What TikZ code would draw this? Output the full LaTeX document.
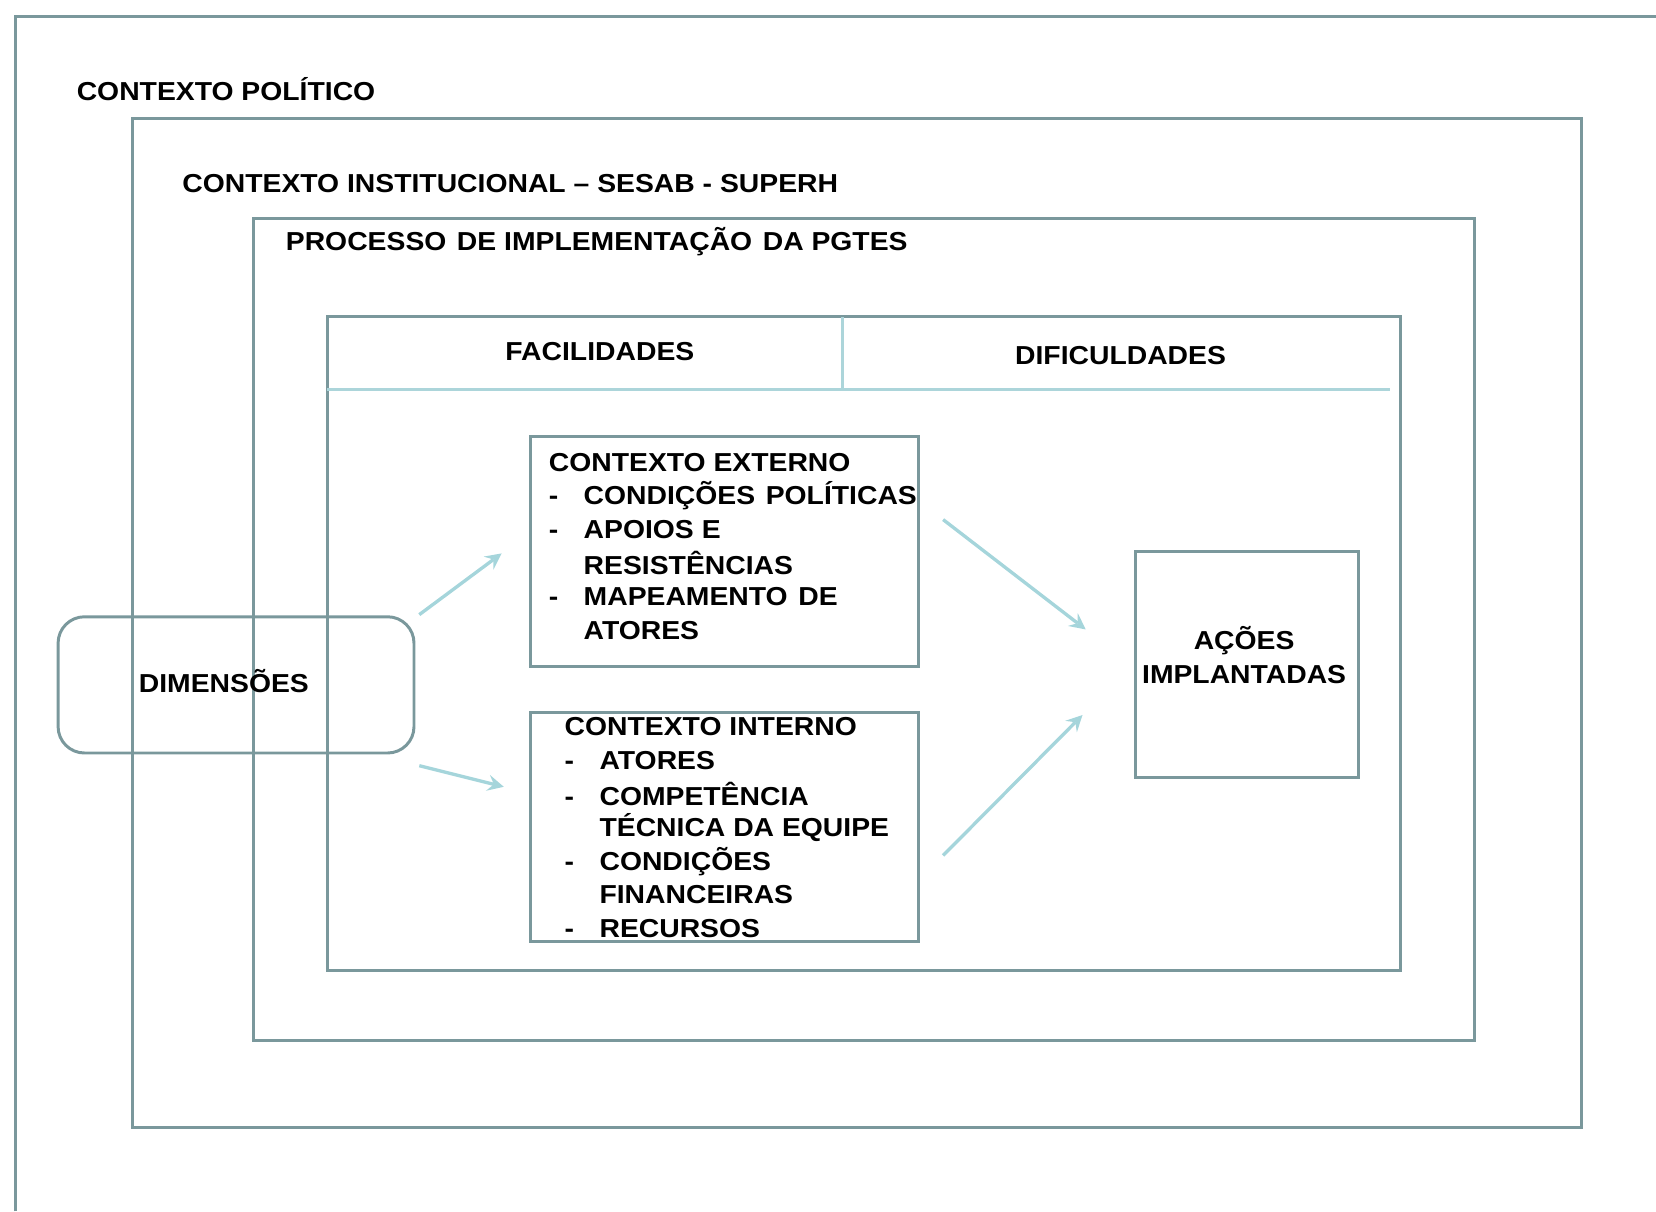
\documentclass[tikz,border=0pt]{standalone}
\usepackage{fontspec}
\setmainfont[FakeStretch=1.09]{Liberation Sans}
\definecolor{frame}{RGB}{122,152,156}
\definecolor{divider}{RGB}{172,213,218}
\definecolor{linkcol}{RGB}{165,213,219}
\newcommand{\dashitem}[1]{\makebox[0.33cm][l]{-}#1}
\newcommand{\contline}[1]{\hspace*{0.33cm}#1}
\newcommand{\gap}{\hspace{0.1cm}}

\begin{document}
\begin{tikzpicture}[x=1cm, y=-1cm, font=\fontsize{7.0}{9.1}\selectfont\bfseries,
    box/.style={draw=frame, line width=0.8pt},
    txt/.style={anchor=west, inner sep=0pt},
    link/.style={linkcol, line width=0.9pt, -stealth}]
    \useasboundingbox (0, 0) rectangle (15.68, 11.47);

    % nested contexts (the outer one runs off the page)
    \draw[box] (0.15, 11.47) -- (0.15, 0.16) -- (15.68, 0.16);
    \draw[box] (1.25, 1.12) rectangle (14.97, 10.68);
    \draw[box] (2.40, 2.07) rectangle (13.96, 9.85);
    \draw[box] (3.10, 3.00) rectangle (13.26, 9.19);
    \draw[divider, line width=0.8pt] (3.10, 3.69) -- (13.16, 3.69);
    \draw[divider, line width=0.8pt] (7.98, 3.00) -- (7.98, 3.69);

    \node[txt] (politico) at (0.72, 0.84) {CONTEXTO POLÍTICO};
    \node[txt] (institucional) at (1.72, 1.74) {CONTEXTO INSTITUCIONAL – SESAB - SUPERH};
    \node[txt] (processo) at (2.70, 2.29) {PROCESSO\gap DE IMPLEMENTAÇÃO\gap DA PGTES};
    \node (facilidades) at (5.68, 3.33) {FACILIDADES};
    \node (dificuldades) at (10.61, 3.37) {DIFICULDADES};

    % boxes
    \node[box, rounded corners=0.25cm, minimum width=3.37cm, minimum height=1.29cm] (dim) at (2.235, 6.485) {};
    \node (dimlabel) at (2.12, 6.45) {DIMENSÕES};
    \node[box, anchor=north west, minimum width=3.67cm, minimum height=2.18cm] (externo) at (5.01, 4.12) {};
    \node[box, anchor=north west, minimum width=3.67cm, minimum height=2.17cm] (interno) at (5.01, 6.73) {};
    \node[box, anchor=north west, minimum width=2.11cm, minimum height=2.14cm] (acoes) at (10.74, 5.21) {};
    \node[align=center] (acoeslabel) at (11.78, 6.20) {AÇÕES\\IMPLANTADAS};

    \foreach \t [count=\i] in {CONTEXTO EXTERNO, {\dashitem{CONDIÇÕES\gap POLÍTICAS}}, {\dashitem{APOIOS E}},
        {\contline{RESISTÊNCIAS}}, {\dashitem{MAPEAMENTO\gap DE}}, {\contline{ATORES}}}{%
        \node[txt] (ext\i) at (5.19, 4.06 + 0.318*\i) {\t};
    }
    \foreach \t [count=\i] in {CONTEXTO INTERNO, {\dashitem{ATORES}}, {\dashitem{COMPETÊNCIA}},
        {\contline{TÉCNICA DA EQUIPE}}, {\dashitem{CONDIÇÕES}}, {\contline{FINANCEIRAS}}, {\dashitem{RECURSOS}}}{%
        \node[txt] (int\i) at (5.34, 6.56 + 0.319*\i) {\t};
    }

    % arrows
    \coordinate (dimtop) at (3.97, 5.82);
    \coordinate (dimbot) at (3.97, 7.25);
    \coordinate (exttip) at (4.75, 5.24);
    \coordinate (inttip) at (4.77, 7.45);
    \coordinate (extout) at (8.93, 4.92);
    \coordinate (intout) at (8.93, 8.10);
    \coordinate (acoestop) at (10.28, 5.96);
    \coordinate (acoesbot) at (10.25, 6.77);
    \draw[link] (dimtop) -- (exttip);
    \draw[link] (dimbot) -- (inttip);
    \draw[link] (extout) -- (acoestop);
    \draw[link] (intout) -- (acoesbot);
\end{tikzpicture}
\end{document}
